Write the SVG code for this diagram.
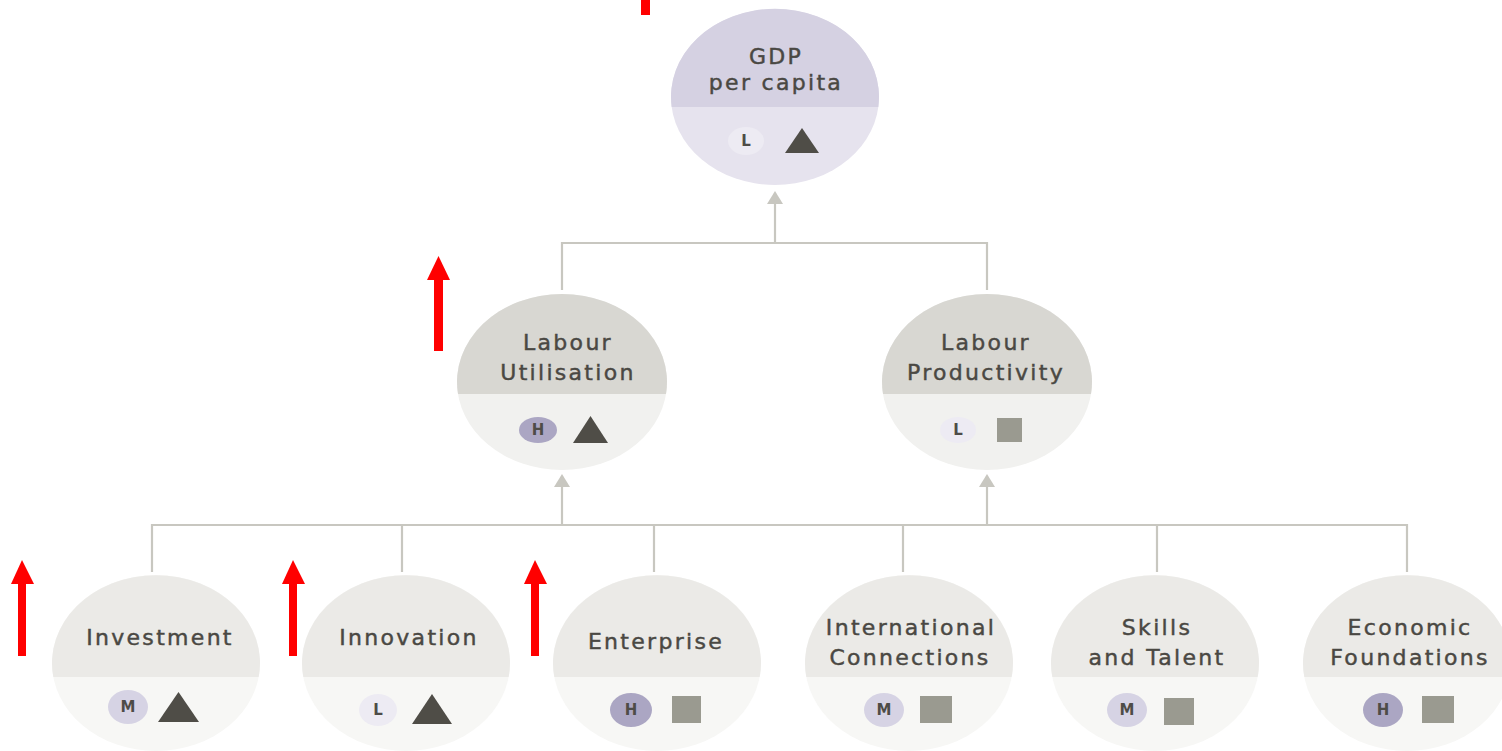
<svg xmlns="http://www.w3.org/2000/svg" width="1502" height="751" viewBox="0 0 1502 751">
  <style>
    .lbl { font-family: "DejaVu Sans", "Open Sans", sans-serif; font-size: 22px; fill: #4a4843; stroke: #4a4843; stroke-width: 0.45px; letter-spacing: 2.3px; text-anchor: middle; }
    .bl { font-family: "DejaVu Sans", sans-serif; font-size: 15px; font-weight: bold; fill: #4e4c47; text-anchor: middle; }
    .wire { fill: none; stroke: #c8c7c0; stroke-width: 2.2; }
    .head { fill: #c8c7c0; }
    .tri { fill: #4f4d47; }
    .sq { fill: #9a9a90; }
    .bH { fill: #aba6c3; }
    .bM { fill: #d6d3e4; }
    .bL { fill: #edebf3; }
    .red { fill: #ff0000; }
  </style>

  <rect width="1502" height="751" fill="#ffffff"/>

  <!-- connectors -->
  <g id="connectors">
    <path class="wire" d="M775,243 V200"/>
    <polygon class="head" points="775,191 783,204 767,204"/>
    <path class="wire" d="M562,290 V243 H987 V290"/>
    <path class="wire" d="M562,525 V484"/>
    <polygon class="head" points="562,474 570,487 554,487"/>
    <path class="wire" d="M987,525 V484"/>
    <polygon class="head" points="987,474 995,487 979,487"/>
    <path class="wire" d="M152,572 V525 H1407 V572"/>
    <path class="wire" d="M402,525 V572 M654,525 V572 M903,525 V572 M1157,525 V572"/>
  </g>

  <!-- top level -->
  <g id="gdp">
    <ellipse cx="775" cy="97" rx="104" ry="88" fill="#e6e3ee"/>
    <path d="M671.7,107 A104,88 0 1 1 878.3,107 Z" fill="#d5d1e2"/>
    <text class="lbl" x="776" y="64">GDP</text>
    <text class="lbl" x="776" y="90">per capita</text>
    <ellipse class="bL" cx="746" cy="141" rx="18" ry="14"/>
    <text class="bl" x="746" y="146">L</text>
    <polygon class="tri" points="785,153 802,128 819,153"/>
  </g>

  <!-- middle level -->
  <g id="labour-utilisation">
    <ellipse cx="562" cy="382" rx="105" ry="88" fill="#f1f1ef"/>
    <path d="M458,394 A105,88 0 1 1 666,394 Z" fill="#d8d7d2"/>
    <text class="lbl" x="568" y="350">Labour</text>
    <text class="lbl" x="568" y="380">Utilisation</text>
    <ellipse class="bH" cx="538" cy="430" rx="19" ry="13"/>
    <text class="bl" x="538" y="435">H</text>
    <polygon class="tri" points="573,443 590.5,416 608,443"/>
  </g>

  <g id="labour-productivity">
    <ellipse cx="987" cy="382" rx="105" ry="88" fill="#f1f1ef"/>
    <path d="M883,394 A105,88 0 1 1 1091,394 Z" fill="#d8d7d2"/>
    <text class="lbl" x="986" y="350">Labour</text>
    <text class="lbl" x="986" y="380">Productivity</text>
    <ellipse class="bL" cx="958" cy="430" rx="18" ry="13"/>
    <text class="bl" x="958" y="435">L</text>
    <rect class="sq" x="997" y="418" width="25" height="24"/>
  </g>

  <!-- bottom level -->
  <g id="investment">
    <ellipse cx="156" cy="663" rx="104" ry="88" fill="#f7f7f5"/>
    <path d="M53.3,677 A104,88 0 1 1 258.7,677 Z" fill="#ebeae7"/>
    <text class="lbl" x="160" y="645">Investment</text>
    <ellipse class="bM" cx="128" cy="707" rx="20" ry="17"/>
    <text class="bl" x="128" y="712">M</text>
    <polygon class="tri" points="158,722 178.5,692 199,722"/>
  </g>

  <g id="innovation">
    <ellipse cx="406" cy="663" rx="104" ry="88" fill="#f7f7f5"/>
    <path d="M303.3,677 A104,88 0 1 1 508.7,677 Z" fill="#ebeae7"/>
    <text class="lbl" x="409" y="645">Innovation</text>
    <ellipse class="bL" cx="378" cy="710" rx="19" ry="16"/>
    <text class="bl" x="378" y="715">L</text>
    <polygon class="tri" points="412,724 432,694 452,724"/>
  </g>

  <g id="enterprise">
    <ellipse cx="657" cy="663" rx="104" ry="88" fill="#f7f7f5"/>
    <path d="M554.3,677 A104,88 0 1 1 759.7,677 Z" fill="#ebeae7"/>
    <text class="lbl" x="656" y="649">Enterprise</text>
    <ellipse class="bH" cx="631" cy="710" rx="21" ry="17"/>
    <text class="bl" x="631" y="715">H</text>
    <rect class="sq" x="672" y="696" width="29" height="27"/>
  </g>

  <g id="international-connections">
    <ellipse cx="909" cy="663" rx="104" ry="88" fill="#f7f7f5"/>
    <path d="M806.3,677 A104,88 0 1 1 1011.7,677 Z" fill="#ebeae7"/>
    <text class="lbl" x="911" y="635">International</text>
    <text class="lbl" x="910" y="665">Connections</text>
    <ellipse class="bM" cx="884" cy="710" rx="20" ry="17"/>
    <text class="bl" x="884" y="715">M</text>
    <rect class="sq" x="920" y="696" width="32" height="27"/>
  </g>

  <g id="skills-and-talent">
    <ellipse cx="1155" cy="663" rx="104" ry="88" fill="#f7f7f5"/>
    <path d="M1052.3,677 A104,88 0 1 1 1257.7,677 Z" fill="#ebeae7"/>
    <text class="lbl" x="1157" y="635">Skills</text>
    <text class="lbl" x="1157" y="665">and Talent</text>
    <ellipse class="bM" cx="1127" cy="710" rx="20" ry="17"/>
    <text class="bl" x="1127" y="715">M</text>
    <rect class="sq" x="1164" y="698" width="30" height="27"/>
  </g>

  <g id="economic-foundations">
    <ellipse cx="1407" cy="663" rx="104" ry="88" fill="#f7f7f5"/>
    <path d="M1304.3,677 A104,88 0 1 1 1509.7,677 Z" fill="#ebeae7"/>
    <text class="lbl" x="1410" y="635">Economic</text>
    <text class="lbl" x="1410" y="665">Foundations</text>
    <ellipse class="bH" cx="1383" cy="710" rx="20" ry="17"/>
    <text class="bl" x="1383" y="715">H</text>
    <rect class="sq" x="1422" y="696" width="32" height="27"/>
  </g>

  <!-- red up-arrows -->
  <g id="red-arrows">
    <rect class="red" x="641" y="0" width="9" height="15"/>
    <rect class="red" x="434" y="278" width="9" height="73"/>
    <polygon class="red" points="427,280 438.5,256 450,280"/>
    <rect class="red" x="18" y="582" width="8" height="74"/>
    <polygon class="red" points="11,584 22,560 34,584"/>
    <rect class="red" x="289" y="582" width="8" height="74"/>
    <polygon class="red" points="282,584 293,560 305,584"/>
    <rect class="red" x="531" y="582" width="8" height="74"/>
    <polygon class="red" points="524,584 535,560 547,584"/>
  </g>
</svg>
